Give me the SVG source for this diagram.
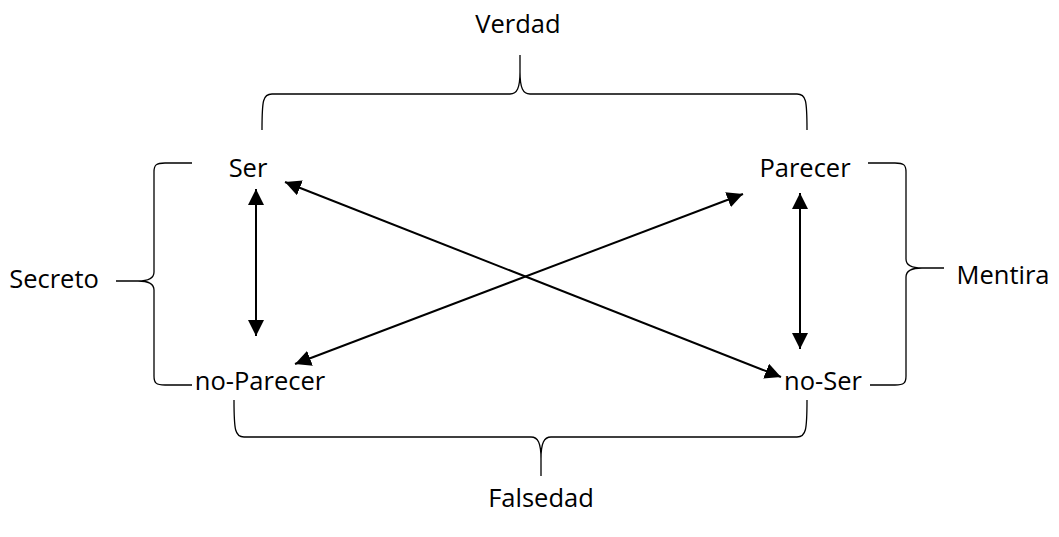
<svg xmlns="http://www.w3.org/2000/svg" width="1059" height="537" viewBox="0 0 1059 537">
<style>
text{font-family:"Open Sans","Liberation Sans",sans-serif;font-size:25.5px;fill:#000}
.brace{fill:none;stroke:#000;stroke-width:1.3}
.arr{fill:none;stroke:#000;stroke-width:2}
</style>
<defs>
<marker id="a" viewBox="0 0 16 16" refX="16" refY="8" markerWidth="16" markerHeight="16" markerUnits="userSpaceOnUse" orient="auto-start-reverse">
<path d="M0,0 L16,8 L0,16 z" fill="#000"/>
</marker>
</defs>
<g id="braces">
<path class="brace" d="M262,130 C262,100 263,94 272,94 L510,94 C517,94 520,88 520,72 L520,55 L520,72 C520,88 523,94 530,94 L797,94 C806,94 807,100 807,130"/>
<path class="brace" d="M192,163 L165,163 C156,163 154,165 154,172 L154,272 C154,279 148,281 138,281 L116,281 L138,281 C148,281 154,283 154,290 L154,376 C154,383 156,385 165,385 L192,385"/>
<path class="brace" d="M868,163 L895,163 C904,163 906,165 906,172 L906,259 C906,266 912,268 922,268 L944,268 L922,268 C912,268 906,270 906,277 L906,376 C906,383 904,385 895,385 L870,385"/>
<path class="brace" d="M234,400 C234,430 235,437 244,437 L531,437 C538,437 541,443 541,459 L541,476 L541,459 C541,443 544,437 551,437 L797,437 C806,437 807,430 807,400"/>
</g>
<g id="connectors">
<line class="arr" x1="256" y1="189" x2="256" y2="336" marker-start="url(#a)" marker-end="url(#a)"/>
<line class="arr" x1="800" y1="193" x2="800" y2="349" marker-start="url(#a)" marker-end="url(#a)"/>
<line class="arr" x1="285" y1="182" x2="781" y2="377" marker-start="url(#a)" marker-end="url(#a)"/>
<line class="arr" x1="743" y1="194" x2="295" y2="364" marker-start="url(#a)" marker-end="url(#a)"/>
</g>
<g id="ser"><text x="248" y="177" text-anchor="middle">Ser</text></g>
<g id="parecer"><text x="805" y="177" text-anchor="middle">Parecer</text></g>
<g id="no-parecer"><text x="260" y="390" text-anchor="middle">no-Parecer</text></g>
<g id="no-ser"><text x="823" y="390" text-anchor="middle">no-Ser</text></g>
<g id="verdad"><text x="518" y="33" text-anchor="middle">Verdad</text></g>
<g id="falsedad"><text x="541" y="507" text-anchor="middle">Falsedad</text></g>
<g id="secreto"><text x="54" y="288" text-anchor="middle">Secreto</text></g>
<g id="mentira"><text x="1003" y="284" text-anchor="middle">Mentira</text></g>
</svg>
